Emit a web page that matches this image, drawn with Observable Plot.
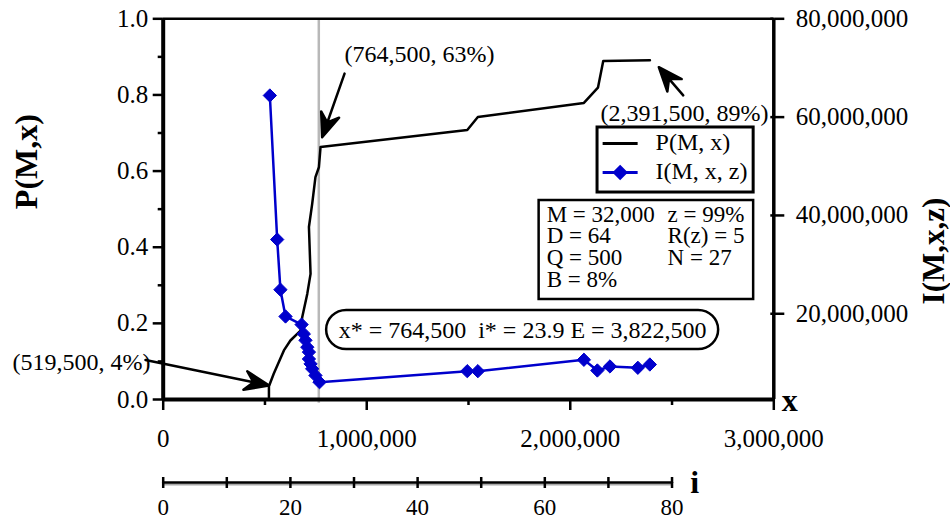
<!DOCTYPE html>
<html><head><meta charset="utf-8">
<script src="https://cdn.jsdelivr.net/npm/d3@7"></script>
<script src="https://cdn.jsdelivr.net/npm/@observablehq/plot@0.6"></script>
<style>
body{margin:0;background:#fff;}
#chart{position:relative;width:950px;height:523px;background:#fff;}
#chart svg{display:block}
#chart svg text{font-family:"Liberation Serif","Times New Roman",serif !important;}
</style></head><body><div id="chart"></div>
<script>
// ---- data: P(M, x) curve (x, probability)
const pX   = [519500, 519500, 543000, 593000, 625000, 675000, 683000, 708000, 724000, 716000, 732000, 748000, 765000, 773000, 1494000, 1546000, 2067000, 2136000, 2162000, 2391500];
const pVal = [0.005,  0.035,  0.0675, 0.129,  0.155,  0.181,  0.216,  0.278,  0.330,  0.453,  0.514,  0.584,  0.610,  0.663,  0.708,   0.742,   0.779,   0.819,   0.889,   0.891];
// ---- data: I(M, x, z) series (x, value)
const iX   = [524000, 560000, 576000, 601000, 680000, 691000, 699000, 708000, 716000, 716000, 724000, 732000, 748000, 768000, 1494000, 1546000, 2067000, 2133000, 2195000, 2332000, 2391000];
const iVal = [64.4e6, 35.1e6, 24.9e6, 19.45e6, 17.8e6, 15.9e6, 14.6e6, 13.2e6, 12.2e6, 10.8e6, 9.8e6, 8.8e6, 7.45e6, 6.08e6, 8.32e6, 8.32e6, 10.64e6, 8.46e6, 9.28e6, 9.01e6, 9.68e6];
// ---- axes
const xMajor = [0, 1000000, 2000000, 3000000];
const xMinor = [500000, 1500000, 2500000];
const yMajor = [0, 0.2, 0.4, 0.6, 0.8, 1.0];
const yMinor = [0.1, 0.3, 0.5, 0.7, 0.9];
const rightTicks = [20000000, 40000000, 60000000, 80000000];
const rightDomain = [2560000, 80000000];
const iTicksMajor = [0, 20, 40, 60, 80];
const iTicksAll = [0, 10, 20, 30, 40, 50, 60, 70, 80];
const iPerX = 80 / 2500000; // i-axis spans x from 0 to 2,500,000
const xStar = 764500;
// ---- annotations (data units)
const annX = [891000, 2149000, -740000];
const annY = [0.906, 0.751, 0.097];
const annText = ["(764,500, 63%)", "(2,391,500, 89%)", "(519,500, 4%)"];
const arrX1 = [891000, 2555000, -87000];
const arrY1 = [0.856, 0.799, 0.104];
const arrX2 = [781000, 2435000, 519000];
const arrY2 = [0.689, 0.873, 0.037];
const summaryText = "x* = 764,500  i* = 23.9 E = 3,822,500";
const summaryBox = {x1: 803000, x2: 2729000, y1: 0.1313, y2: 0.2338, tx: 1766000, ty: 0.181};
const legendBox = {x1: 2134000, x2: 2901000, y1: 0.5437, y2: 0.7145};
const legendNames = ["P(M, x)", "I(M, x, z)"];
const legendLineX = [2159000, 2331000];
const legendY = [0.6724, 0.5963];
const legendTextX = 2419000;
const paramBox = {x1: 1847000, x2: 2901000, y1: 0.2627, y2: 0.5227};
const paramCol1 = ["M = 32,000", "D = 64", "Q = 500", "B = 8%"];
const paramCol2 = ["z = 99%", "R(z) = 5", "N = 27"];
const paramColX = [1884000, 2478000];
const paramRowY = [0.486, 0.4308, 0.373, 0.3152];
const rightTitleY = 0.39;

const FONT = '"Liberation Serif", "Times New Roman", serif';
const BLUE = "#0000cc";
const toP = v => (v - rightDomain[0]) / (rightDomain[1] - rightDomain[0]);
const fromP = p => rightDomain[0] + p * (rightDomain[1] - rightDomain[0]);

const pData = pX.map((x, k) => ({x, p: pVal[k]}));
const iData = iX.map((x, k) => ({x, v: iVal[k], p: toP(iVal[k])}));
const ann = annText.map((t, k) => ({x: annX[k], y: annY[k], t}));
const arrows = arrX1.map((x1, k) => ({x1, y1: arrY1[k], x2: arrX2[k], y2: arrY2[k]}));
const params = [
  ...paramCol1.map((t, k) => ({x: paramColX[0], y: paramRowY[k], t})),
  ...paramCol2.map((t, k) => ({x: paramColX[1], y: paramRowY[k], t}))
];

const main = Plot.plot({
  width: 950, height: 455,
  marginTop: 18.3, marginBottom: 56, marginLeft: 162.7, marginRight: 176.7,
  style: {fontFamily: FONT, background: "white", overflow: "visible", color: "black"},
  x: {domain: [0, 3000000]},
  y: {domain: [0, 1]},
  marks: [
    Plot.ruleX([xStar], {y1: -0.01, y2: 1, stroke: "#b8b8b8", strokeWidth: 2.5}),
    // left axis
    Plot.axisY(yMajor, {anchor: "left", tickSize: 10, tickPadding: 5, fontSize: 25, strokeWidth: 2.5, tickFormat: d3.format(".1f"), label: null}),
    Plot.axisY(yMinor, {anchor: "left", tickSize: 5, strokeWidth: 2.5, tickFormat: () => "", label: null}),
    // right axis
    Plot.axisY(rightTicks.map(toP), {anchor: "right", tickSize: 10, tickPadding: 12, fontSize: 25, strokeWidth: 2.5, tickFormat: p => d3.format(",")(Math.round(fromP(p) / 1e6) * 1e6), label: null}),
    Plot.axisY(rightTicks.map(toP), {anchor: "right", tickSize: -4, strokeWidth: 2.5, tickFormat: () => "", label: null}),
    // bottom axis
    Plot.axisX(xMajor, {anchor: "bottom", tickSize: 11, tickPadding: 19, fontSize: 25, strokeWidth: 2.5, tickFormat: d3.format(","), label: null}),
    Plot.axisX(xMinor, {anchor: "bottom", tickSize: 6, strokeWidth: 2.5, tickFormat: () => "", label: null}),
    // frame lines
    Plot.ruleY([1], {stroke: "black", strokeWidth: 2.5}),
    Plot.ruleX([3000000], {stroke: "black", strokeWidth: 3.5}),
    Plot.ruleX([0], {stroke: "black", strokeWidth: 4}),
    Plot.ruleY([0], {stroke: "black", strokeWidth: 4}),
    // axis titles
    Plot.text(["P(M,x)"], {frameAnchor: "left", dx: -136, rotate: -90, fontSize: 32, fontWeight: "bold"}),
    Plot.text(["I(M,x,z)"], {x: () => 3000000, y: () => rightTitleY, dx: 160, rotate: -90, fontSize: 31, fontWeight: "bold"}),
    Plot.text(["x"], {frameAnchor: "bottom-right", dx: 24, dy: 11, lineAnchor: "bottom", fontSize: 32, fontWeight: "bold"}),
    // data
    Plot.line(pData, {x: "x", y: "p", stroke: "black", strokeWidth: 2.5}),
    Plot.line(iData, {x: "x", y: "p", stroke: BLUE, strokeWidth: 2.5}),
    Plot.dot(iData, {x: "x", y: "p", symbol: "diamond2", r: 6, fill: BLUE, stroke: BLUE, strokeWidth: 1}),
    // annotations
    Plot.arrow(arrows, {x1: "x1", y1: "y1", x2: "x2", y2: "y2", stroke: "black", strokeWidth: 3}),
    Plot.text(ann, {x: "x", y: "y", text: "t", textAnchor: "start", fontSize: 24}),
    Plot.rect([summaryBox], {x1: "x1", x2: "x2", y1: "y1", y2: "y2", rx: 20, fill: "white", stroke: "black", strokeWidth: 2.5}),
    Plot.text([summaryBox], {x: "tx", y: "ty", text: () => summaryText, fontSize: 24}),
    // legend
    Plot.rect([legendBox], {x1: "x1", x2: "x2", y1: "y1", y2: "y2", fill: "white", stroke: "black", strokeWidth: 3}),
    Plot.link([0, 1], {x1: () => legendLineX[0], x2: () => legendLineX[1], y1: k => legendY[k], y2: k => legendY[k], stroke: k => k ? BLUE : "black", strokeWidth: 3}),
    Plot.dot([1], {x: () => (legendLineX[0] + legendLineX[1]) / 2, y: k => legendY[k], symbol: "diamond2", r: 6, fill: BLUE, stroke: BLUE}),
    Plot.text([0, 1], {x: () => legendTextX, y: k => legendY[k], dy: -1, text: k => legendNames[k], textAnchor: "start", fontSize: 24}),
    // parameter box
    Plot.rect([paramBox], {x1: "x1", x2: "x2", y1: "y1", y2: "y2", fill: "white", stroke: "black", strokeWidth: 2.5}),
    Plot.text(params, {x: "x", y: "y", text: "t", textAnchor: "start", fontSize: 23})
  ]
});

// filled, barbed arrowheads built from the arrow mark's own scaled endpoints
main.querySelectorAll('g[aria-label="arrow"] path').forEach(p => {
  const n = (p.getAttribute("d").match(/-?\d*\.?\d+(e[-+]?\d+)?/g) || []).map(Number);
  if (n.length < 4) return;
  const [x1, y1, x2, y2] = n;
  const len = Math.hypot(x2 - x1, y2 - y1);
  const ux = (x2 - x1) / len, uy = (y2 - y1) / len;
  const L = 24, W = 9.5;
  const bx = x2 - ux * L, by = y2 - uy * L;
  const nx = x2 - ux * L * 0.65, ny = y2 - uy * L * 0.65;
  const ax = bx - uy * W, ay = by + ux * W, cx = bx + uy * W, cy = by - ux * W;
  p.setAttribute("d", `M${x1},${y1}L${nx},${ny}M${x2},${y2}L${ax},${ay}L${nx},${ny}L${cx},${cy}Z`);
  p.setAttribute("fill", "black");
  p.setAttribute("stroke-linejoin", "round");
  p.setAttribute("stroke-width", "2.5");
});

const iAxis = Plot.plot({
  width: 950, height: 68,
  marginTop: 27, marginBottom: 41, marginLeft: 162.7, marginRight: 950 - (162.7 + 2500000 * 203.53e-6),
  style: {fontFamily: FONT, background: "white", overflow: "visible", color: "black"},
  x: {domain: [0, 2500000 * iPerX]},
  y: {domain: [0, 1]},
  marks: [
    Plot.ruleY([0], {stroke: "#aaaaaa", strokeWidth: 2, dy: 2}),
    Plot.ruleY([0], {stroke: "black", strokeWidth: 2.5}),
    Plot.axisX(iTicksAll, {anchor: "top", tickSize: 6, strokeWidth: 2.5, tickFormat: () => "", label: null}),
    Plot.axisX(iTicksAll, {anchor: "bottom", tickSize: 6, tickPadding: 10, strokeWidth: 2.5, fontSize: 23, tickFormat: d => iTicksMajor.includes(d) ? String(d) : "", label: null}),
    Plot.text(["i"], {frameAnchor: "right", dx: 27, fontSize: 32, fontWeight: "bold"})
  ]
});

const host = document.getElementById("chart");
host.append(main, iAxis);
</script>
</body></html>
